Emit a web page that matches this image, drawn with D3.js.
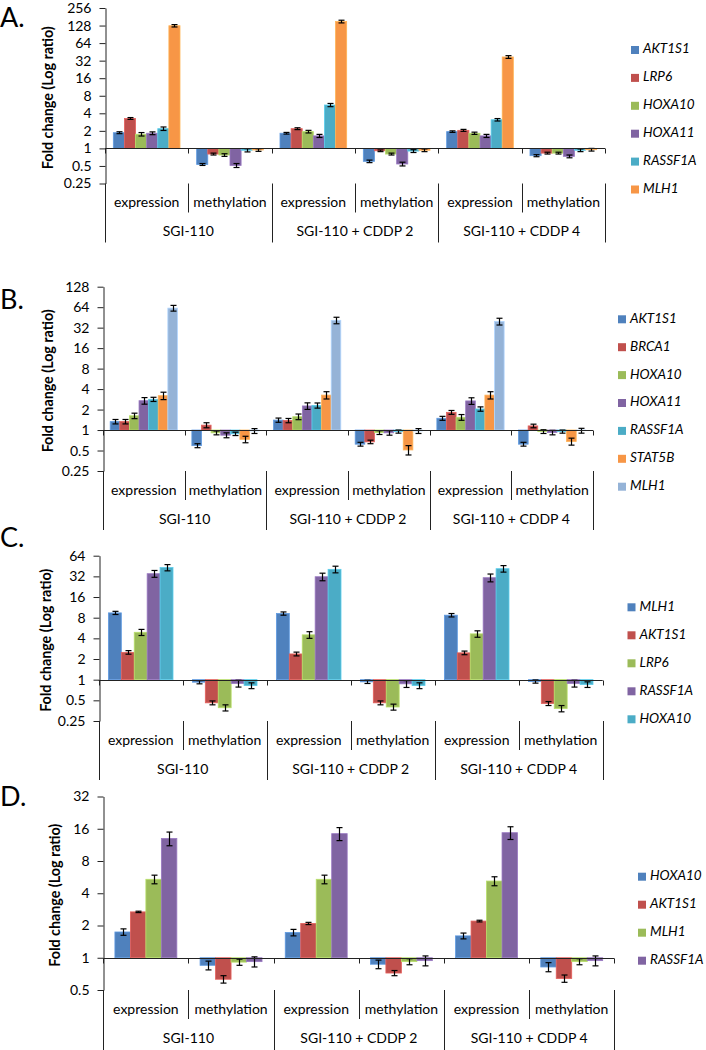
<!DOCTYPE html>
<html><head><meta charset="utf-8">
<script src="https://cdn.jsdelivr.net/npm/d3@7"></script>
<style>
html,body{margin:0;padding:0;background:#fff;}
svg{display:block;font-family:Lato,"Open Sans",sans-serif;}
</style></head>
<body>
<svg id="chart" width="706" height="1050"></svg>
<script>
// ---------- DATA ----------
const treatments = ["SGI-110", "SGI-110 + CDDP 2", "SGI-110 + CDDP 4"];
const assays = ["expression", "methylation"];

// Panel A
const seriesA = ["AKT1S1", "LRP6", "HOXA10", "HOXA11", "RASSF1A", "MLH1"];
const valuesA = [
  [1.86, 0.53, 1.82, 0.60, 1.94, 0.75],
  [3.26, 0.80, 2.18, 0.91, 2.04, 0.83],
  [1.75, 0.77, 1.94, 0.80, 1.82, 0.83],
  [1.82, 0.51, 1.64, 0.54, 1.64, 0.73],
  [2.18, 0.93, 5.55, 0.90, 3.10, 0.93],
  [127, 0.94, 150, 0.93, 37, 0.95]
];
const errorsA = [
  [0.07, 0.02, 0.06, 0.03, 0.06, 0.03],
  [0.12, 0.03, 0.08, 0.03, 0.08, 0.03],
  [0.12, 0.04, 0.10, 0.03, 0.08, 0.03],
  [0.10, 0.04, 0.10, 0.04, 0.10, 0.04],
  [0.15, 0.06, 0.35, 0.05, 0.15, 0.05],
  [6, 0.05, 8, 0.05, 2, 0.05]
];
const ticksA = [0.25, 0.5, 1, 2, 4, 8, 16, 32, 64, 128, 256];

// Panel B
const seriesB = ["AKT1S1", "BRCA1", "HOXA10", "HOXA11", "RASSF1A", "STAT5B", "MLH1"];
const valuesB = [
  [1.33, 0.59, 1.40, 0.62, 1.49, 0.62],
  [1.33, 1.18, 1.38, 0.67, 1.82, 1.15],
  [1.62, 0.91, 1.57, 0.92, 1.54, 0.95],
  [2.70, 0.84, 2.26, 0.91, 2.68, 0.92],
  [2.83, 0.88, 2.30, 0.95, 2.04, 0.95],
  [3.20, 0.73, 3.26, 0.51, 3.26, 0.68],
  [62, 0.97, 41, 0.97, 39.5, 0.98]
];
const errorsB = [
  [0.10, 0.04, 0.10, 0.04, 0.10, 0.04],
  [0.10, 0.10, 0.10, 0.04, 0.12, 0.07],
  [0.15, 0.06, 0.15, 0.06, 0.15, 0.06],
  [0.30, 0.07, 0.25, 0.07, 0.30, 0.07],
  [0.20, 0.05, 0.20, 0.05, 0.15, 0.05],
  [0.40, 0.08, 0.40, 0.08, 0.40, 0.08],
  [6, 0.08, 4.5, 0.08, 4.5, 0.08]
];
const ticksB = [0.25, 0.5, 1, 2, 4, 8, 16, 32, 64, 128];

// Panel C
const seriesC = ["MLH1", "AKT1S1", "LRP6", "RASSF1A", "HOXA10"];
const valuesC = [
  [9.4, 0.92, 9.2, 0.93, 8.7, 0.94],
  [2.50, 0.46, 2.37, 0.46, 2.46, 0.45],
  [4.9, 0.39, 4.5, 0.40, 4.65, 0.38],
  [35, 0.88, 31.6, 0.87, 30.6, 0.88],
  [43, 0.82, 40.5, 0.82, 41.4, 0.85]
];
const errorsC = [
  [0.5, 0.05, 0.5, 0.05, 0.5, 0.05],
  [0.15, 0.03, 0.15, 0.03, 0.15, 0.03],
  [0.5, 0.04, 0.5, 0.04, 0.5, 0.04],
  [4, 0.10, 4, 0.10, 4, 0.10],
  [4.5, 0.08, 4.5, 0.08, 4.5, 0.08]
];
const ticksC = [0.25, 0.5, 1, 2, 4, 8, 16, 32, 64];

// Panel D
const seriesD = ["HOXA10", "AKT1S1", "MLH1", "RASSF1A"];
const valuesD = [
  [1.74, 0.85, 1.72, 0.87, 1.60, 0.82],
  [2.68, 0.63, 2.09, 0.72, 2.20, 0.64],
  [5.4, 0.91, 5.4, 0.92, 5.2, 0.92],
  [13, 0.92, 14.4, 0.94, 14.7, 0.94]
];
const errorsD = [
  [0.12, 0.08, 0.12, 0.08, 0.10, 0.08],
  [0.04, 0.05, 0.05, 0.04, 0.04, 0.05],
  [0.5, 0.06, 0.5, 0.06, 0.5, 0.06],
  [1.9, 0.10, 2.0, 0.10, 2.0, 0.10]
];
const ticksD = [0.5, 1, 2, 4, 8, 16, 32];

const colorsA = ["#4F81BD", "#C0504D", "#9BBB59", "#8064A2", "#4BACC6", "#F79646"];
const colorsB = ["#4F81BD", "#C0504D", "#9BBB59", "#8064A2", "#4BACC6", "#F79646", "#95B3D7"];
const colorsC = ["#4F81BD", "#C0504D", "#9BBB59", "#8064A2", "#4BACC6"];
const colorsD = ["#4F81BD", "#C0504D", "#9BBB59", "#8064A2"];

// ---------- DRAW ----------
const svg = d3.select("#chart");
const categories = d3.range(treatments.length * assays.length);

function panel(cfg, series, values, errors, colors, ticks) {
  const g = svg.append("g");
  const y = d3.scaleLog().base(2).domain([ticks[0], ticks[ticks.length - 1]]).range([cfg.yBot, cfg.yTop]);
  const xc = d3.scaleBand().domain(categories).range([cfg.x0, cfg.x1]).padding(0);
  const xs = d3.scaleBand().domain(series).range([0, xc.bandwidth()]).paddingInner(0).paddingOuter(0.75);
  const y1 = y(1);

  // panel letter
  g.append("text").attr("x", cfg.letterX).attr("y", cfg.letterY)
    .attr("font-size", 27).attr("fill", "#000").text(cfg.letter);

  // bars
  series.forEach((s, si) => {
    const sg = g.append("g");
    categories.forEach(ci => {
      const v = values[si][ci];
      const yv = y(v);
      sg.append("rect")
        .attr("x", xc(ci) + xs(s))
        .attr("y", Math.min(yv, y1))
        .attr("width", xs.bandwidth())
        .attr("height", Math.abs(yv - y1))
        .attr("fill", colors[si])
        .attr("stroke", d3.color(colors[si]).brighter(0.5))
        .attr("stroke-width", 0.8);
    });
  });

  // error bars
  series.forEach((s, si) => {
    categories.forEach(ci => {
      const v = values[si][ci], e = errors[si][ci];
      const cx = Math.round(xc(ci) + xs(s) + xs.bandwidth() / 2) + 0.5;
      const ya = y(v + e), yb = y(Math.max(v - e, 0.01));
      const eg = g.append("g").attr("stroke", "#000").attr("stroke-width", 1.2);
      eg.append("line").attr("x1", cx).attr("x2", cx).attr("y1", ya).attr("y2", yb);
      eg.append("line").attr("x1", cx - 3).attr("x2", cx + 3).attr("y1", ya).attr("y2", ya);
      eg.append("line").attr("x1", cx - 3).attr("x2", cx + 3).attr("y1", yb).attr("y2", yb);
    });
  });

  // y axis
  const ax = g.append("g").attr("transform", `translate(${Math.round(cfg.x0) + 0.5},0)`)
    .call(d3.axisLeft(y).tickValues(ticks).tickSize(6).tickSizeOuter(0).tickPadding(8)
      .tickFormat(d => String(d)));
  ax.selectAll("text").attr("font-size", 14).attr("fill", "#000").attr("font-family", "Lato, sans-serif");
  ax.selectAll("line,path").attr("stroke", "#222");

  // x axis line at 1
  const yl = Math.round(y1) + 0.5;
  g.append("line").attr("x1", cfg.x0).attr("x2", cfg.x1).attr("y1", yl).attr("y2", yl)
    .attr("stroke", "#222");
  d3.range(categories.length + 1).forEach(k => {
    const xx = Math.round(k < categories.length ? xc(k) : cfg.x1) + 0.5;
    g.append("line").attr("x1", xx).attr("x2", xx).attr("y1", yl).attr("y2", yl + 5).attr("stroke", "#222");
  });

  // category label grid
  const yb0 = cfg.yBot;
  d3.range(categories.length + 1).forEach(k => {
    const xx = Math.round(k < categories.length ? xc(k) : cfg.x1) + 0.5;
    const full = k % 2 === 0;
    g.append("line").attr("x1", xx).attr("x2", xx)
      .attr("y1", yb0).attr("y2", yb0 + (full ? cfg.fullLen : 29))
      .attr("stroke", "#222");
  });
  categories.forEach(ci => {
    g.append("text").attr("x", xc(ci) + xc.bandwidth() / 2).attr("y", yb0 + 20)
      .attr("text-anchor", "middle").attr("dominant-baseline", "middle")
      .attr("font-size", 14).attr("fill", "#000").text(assays[ci % 2]);
  });
  treatments.forEach((t, ti) => {
    g.append("text").attr("x", xc(ti * 2) + xc.bandwidth()).attr("y", yb0 + 49)
      .attr("text-anchor", "middle").attr("dominant-baseline", "middle")
      .attr("font-size", 14).attr("fill", "#000").text(t);
  });

  // y title
  g.append("text")
    .attr("transform", `translate(${cfg.titleX},${(cfg.yTop + cfg.yBot) / 2 + 2}) rotate(-90)`)
    .attr("text-anchor", "middle").attr("dominant-baseline", "middle")
    .attr("font-size", 15).attr("font-weight", "bold").attr("fill", "#000")
    .attr("textLength", 143).attr("lengthAdjust", "spacingAndGlyphs")
    .text("Fold change (Log ratio)");

  // legend
  series.forEach((s, si) => {
    const ly = cfg.legY + si * cfg.legDy;
    g.append("rect").attr("x", cfg.legX).attr("y", ly - 4).attr("width", 8).attr("height", 8)
      .attr("fill", colors[si]);
    g.append("text").attr("x", cfg.legX + 12).attr("y", ly)
      .attr("dominant-baseline", "middle").attr("font-size", 13.5).attr("font-style", "italic")
      .attr("fill", "#000").text(s);
  });
}

panel({letter: "A.", letterX: 0, letterY: 27, x0: 105, x1: 605, yTop: 8, yBot: 183.5,
       fullLen: 59, titleX: 49, legX: 631, legY: 50, legDy: 27.9},
      seriesA, valuesA, errorsA, colorsA, ticksA);
panel({letter: "B.", letterX: 0, letterY: 309, x0: 103, x1: 593, yTop: 286.7, yBot: 471,
       fullLen: 59, titleX: 49, legX: 618, legY: 319.3, legDy: 27.9},
      seriesB, valuesB, errorsB, colorsB, ticksB);
panel({letter: "C.", letterX: 0, letterY: 547, x0: 98.7, x1: 602.7, yTop: 555.7, yBot: 721,
       fullLen: 59, titleX: 47, legX: 627.5, legY: 607.3, legDy: 28},
      seriesC, valuesC, errorsC, colorsC, ticksC);
panel({letter: "D.", letterX: 0, letterY: 806, x0: 103.3, x1: 614.3, yTop: 796.5, yBot: 990,
       fullLen: 62, titleX: 56, legX: 638, legY: 876.7, legDy: 28},
      seriesD, valuesD, errorsD, colorsD, ticksD);
</script>
</body></html>
